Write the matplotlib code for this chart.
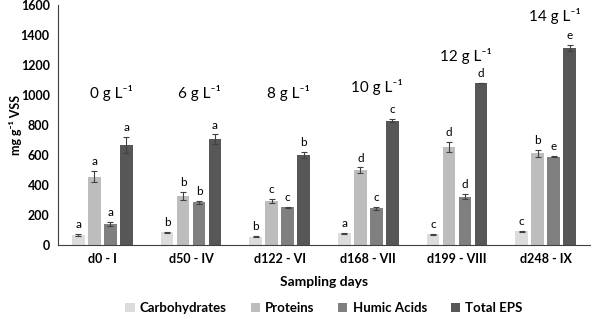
import numpy as np
import matplotlib
matplotlib.use("Agg")
import matplotlib.pyplot as plt

plt.rcParams['font.family'] = ['Lato', 'DejaVu Sans']

days = ['d0 - I', 'd50 - IV', 'd122 - VI', 'd168 - VII', 'd199 - VIII', 'd248 - IX']
conc = ['0 g L⁻¹', '6 g L⁻¹', '8 g L⁻¹', '10 g L⁻¹', '12 g L⁻¹', '14 g L⁻¹']
conc_y = [960, 960, 960, 1000, 1205, 1470]

series = ['Carbohydrates', 'Proteins', 'Humic Acids', 'Total EPS']
carb = [67, 84, 56, 78, 73, 91]
prot = [455, 327, 293, 500, 655, 611]
humic = [140, 284, 251, 244, 322, 589]
total = [667, 704, 600, 829, 1080, 1315]
carb_err = [5, 3, 3, 4, 3, 3]
prot_err = [38, 28, 15, 18, 33, 22]
humic_err = [15, 12, 3, 12, 17, 3]
total_err = [52, 33, 20, 12, 3, 20]
carb_let = ['a', 'b', 'b', 'a', 'c', 'c']
prot_let = ['a', 'b', 'c', 'd', 'd', 'b']
humic_let = ['a', 'b', 'c', 'c', 'd', 'e']
total_let = ['a', 'a', 'b', 'c', 'd', 'e']

colors = ['#dcdcdc', '#bdbdbd', '#808080', '#575757']
vals = [carb, prot, humic, total]
errs = [carb_err, prot_err, humic_err, total_err]
lets = [carb_let, prot_let, humic_let, total_let]

fig = plt.figure(figsize=(5.91, 3.21), dpi=100)
ax = fig.add_axes([58 / 591, 76 / 321, 532 / 591, 240 / 321])

x = np.arange(len(days))
w = 0.145
step = 0.18
for i in range(4):
    pos = x + (i - 1.5) * step
    ax.bar(pos, vals[i], w, color=colors[i], edgecolor='none', label=series[i],
           yerr=errs[i], error_kw=dict(ecolor='#404040', elinewidth=0.8, capsize=2.5, capthick=0.8))
    for p, v, e, l in zip(pos, vals[i], errs[i], lets[i]):
        ax.text(p, v + e + 25, l, ha='center', va='bottom', fontsize=8.5)

for xi, t, yy in zip(x, conc, conc_y):
    ax.text(xi + 0.1, yy, t, ha='center', va='bottom', fontsize=11)

ax.set_xlim(-0.5, 5.5)
ax.set_ylim(0, 1600)
ax.set_yticks(range(0, 1601, 200))
ax.set_xticks(x)
ax.set_xticklabels(days, fontweight='bold', fontsize=9)
for lab in ax.get_yticklabels():
    lab.set_fontweight('bold')
    lab.set_fontsize(9)
ax.tick_params(length=0, pad=6)
ax.spines['top'].set_visible(False)
ax.spines['right'].set_visible(False)
ax.spines['left'].set_color('#404040')
ax.spines['bottom'].set_color('#404040')
ax.set_xlabel('Sampling days', fontweight='bold', fontsize=10, labelpad=8)
ax.set_ylabel('mg g⁻¹ VSS', fontweight='bold', fontsize=9)
ax.yaxis.set_label_coords(-0.068, 0.5)

ax.legend(loc='center', bbox_to_anchor=(0.5, -0.262), ncol=4, frameon=False,
          prop={'weight': 'bold', 'size': 9.5}, handlelength=0.7, handleheight=0.7,
          columnspacing=1.8, handletextpad=0.4)

fig.savefig('out.png', dpi=100)
